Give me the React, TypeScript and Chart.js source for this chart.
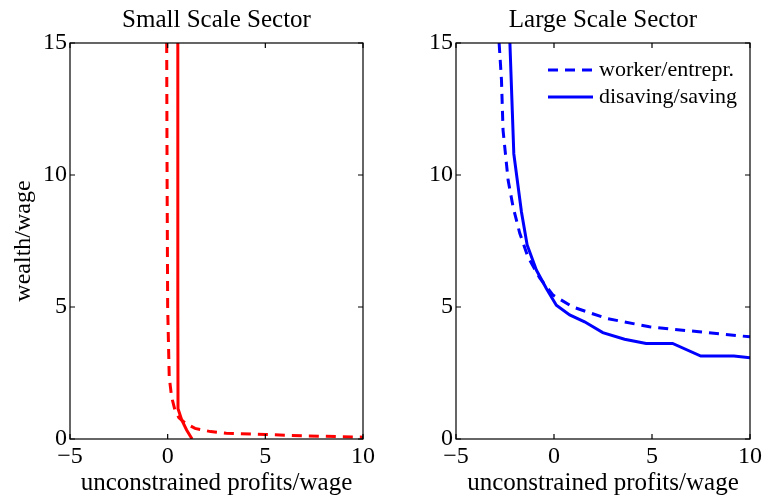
import React, { useEffect, useRef } from "react";
import { Chart, registerables } from "chart.js";

Chart.register(...registerables);

// ---- Data ----
const xTickValues = [-5, 0, 5, 10];
const yTickValues = [0, 5, 10, 15];

// Small scale sector
const smallWorkerX = [-0.05, -0.03, 0.0, 0.08, 0.2, 0.37, 0.58, 0.9, 1.4, 2.2, 3.0, 5.0, 7.0, 10.0];
const smallWorkerY = [15, 10, 5, 2.35, 1.6, 1.1, 0.8, 0.6, 0.4, 0.28, 0.22, 0.17, 0.12, 0.07];
const smallSavingX = [0.52, 0.52, 0.53, 0.72, 0.97, 1.25];
const smallSavingY = [15, 5, 1.15, 0.72, 0.34, 0];

// Large scale sector
const largeWorkerX = [-2.8, -2.68, -2.6, -2.34, -2.09, -1.75, -1.33, -0.73, -0.05, 0.96, 2.67, 4.87, 7.4, 10];
const largeWorkerY = [15, 13.6, 11.7, 9.8, 8.8, 7.8, 6.9, 6.1, 5.45, 5.0, 4.57, 4.25, 4.06, 3.87];
const largeSavingX = [-2.25, -2.05, -1.66, -1.37, -0.9, -0.39, 0.12, 0.8, 1.56, 2.49, 3.6, 4.7, 6.05, 7.49, 9.18, 10];
const largeSavingY = [15, 10.8, 8.6, 7.35, 6.4, 5.7, 5.07, 4.7, 4.44, 4.03, 3.78, 3.62, 3.62, 3.14, 3.14, 3.08];

const legendLabels = ["worker/entrepr.", "disaving/saving"];

const FONT = "'Liberation Serif', 'Times New Roman', serif";
const DASH = [10, 7];

const toPoints = (xs: number[], ys: number[]) => xs.map((x, i) => ({ x, y: ys[i] }));
const fmt = (v: number | string) => {
  const n = Number(v);
  return n < 0 ? "\u2212" + Math.abs(n) : String(n);
};

const framePlugin = {
  id: "frame",
  afterDatasetsDraw(chart: any) {
    const { ctx, chartArea, scales } = chart;
    const { left, right, top, bottom } = chartArea;
    ctx.save();
    ctx.strokeStyle = "#000";
    ctx.lineWidth = 1.2;
    ctx.strokeRect(left, top, right - left, bottom - top);
    const len = 5;
    ctx.beginPath();
    xTickValues.forEach((v) => {
      const px = scales.x.getPixelForValue(v);
      ctx.moveTo(px, bottom);
      ctx.lineTo(px, bottom - len);
      ctx.moveTo(px, top);
      ctx.lineTo(px, top + len);
    });
    yTickValues.forEach((v) => {
      const py = scales.y.getPixelForValue(v);
      ctx.moveTo(left, py);
      ctx.lineTo(left + len, py);
      ctx.moveTo(right, py);
      ctx.lineTo(right - len, py);
    });
    ctx.stroke();
    ctx.restore();
  },
};

const innerLegendPlugin = {
  id: "innerLegend",
  afterDatasetsDraw(chart: any, _args: any, opts: any) {
    if (!opts || !opts.show) return;
    const { ctx, chartArea } = chart;
    const x0 = chartArea.left + 92;
    const x1 = chartArea.left + 137;
    const tx = chartArea.left + 143;
    const rows = [chartArea.top + 27, chartArea.top + 54];
    ctx.save();
    chart.data.datasets.forEach((ds: any, i: number) => {
      const y = rows[i];
      ctx.strokeStyle = ds.borderColor;
      ctx.lineWidth = ds.borderWidth;
      ctx.setLineDash(ds.borderDash || []);
      ctx.beginPath();
      ctx.moveTo(x0, y);
      ctx.lineTo(x1, y);
      ctx.stroke();
      ctx.setLineDash([]);
      ctx.fillStyle = "#000";
      ctx.font = `22px ${FONT}`;
      ctx.textBaseline = "middle";
      ctx.textAlign = "left";
      ctx.fillText(legendLabels[i], tx, y);
    });
    ctx.restore();
  },
};

function makeConfig(opts: {
  title: string;
  color: string;
  workerX: number[];
  workerY: number[];
  savingX: number[];
  savingY: number[];
  yTitle: string | null;
  yWidth: number;
  padRight: number;
  legend: boolean;
}): any {
  const tickFont = { family: FONT, size: 24 };
  return {
    type: "line",
    data: {
      datasets: [
        {
          label: legendLabels[0],
          data: toPoints(opts.workerX, opts.workerY),
          borderColor: opts.color,
          backgroundColor: opts.color,
          borderWidth: 3,
          borderDash: DASH,
          pointRadius: 0,
          tension: 0,
          fill: false,
        },
        {
          label: legendLabels[1],
          data: toPoints(opts.savingX, opts.savingY),
          borderColor: opts.color,
          backgroundColor: opts.color,
          borderWidth: 3,
          pointRadius: 0,
          tension: 0,
          fill: false,
        },
      ],
    },
    options: {
      responsive: false,
      maintainAspectRatio: false,
      animation: false,
      events: [],
      layout: { padding: { left: 0, right: opts.padRight, top: 0, bottom: 0 } },
      plugins: {
        legend: { display: false },
        tooltip: { enabled: false },
        title: {
          display: true,
          text: opts.title,
          fullSize: false,
          color: "#000",
          font: { family: FONT, size: 25, weight: "normal" },
          padding: { top: 5, bottom: 8 },
        },
        innerLegend: { show: opts.legend },
      },
      scales: {
        x: {
          type: "linear",
          min: -5,
          max: 10,
          afterBuildTicks: (s: any) => {
            s.ticks = xTickValues.map((v) => ({ value: v }));
          },
          grid: { display: false, drawTicks: false },
          border: { display: false },
          ticks: {
            color: "#000",
            font: tickFont,
            padding: 3,
            maxRotation: 0,
            autoSkip: false,
            callback: (v: any) => fmt(v),
          },
          title: {
            display: true,
            text: "unconstrained profits/wage",
            color: "#000",
            font: { family: FONT, size: 25 },
            padding: { top: 0, bottom: 0 },
          },
          afterFit: (s: any) => {
            s.height = 59;
          },
        },
        y: {
          type: "linear",
          min: 0,
          max: 15,
          afterBuildTicks: (s: any) => {
            s.ticks = yTickValues.map((v) => ({ value: v }));
          },
          grid: { display: false, drawTicks: false },
          border: { display: false },
          ticks: {
            color: "#000",
            font: tickFont,
            padding: 3,
            autoSkip: false,
            callback: (v: any) => fmt(v),
          },
          title: {
            display: !!opts.yTitle,
            text: opts.yTitle || "",
            color: "#000",
            font: { family: FONT, size: 24 },
            padding: { top: 9, bottom: 0 },
          },
          afterFit: (s: any) => {
            s.width = opts.yWidth;
          },
        },
      },
    },
    plugins: [framePlugin, innerLegendPlugin],
  };
}

function Panel(props: { cfg: any; left: number; width: number }) {
  const ref = useRef<HTMLCanvasElement | null>(null);
  useEffect(() => {
    if (!ref.current) return;
    const chart = new Chart(ref.current, props.cfg);
    return () => chart.destroy();
  }, []);
  return (
    <canvas
      ref={ref}
      width={props.width}
      height={498}
      style={{ position: "absolute", left: props.left, top: 0, width: props.width, height: 498 }}
    />
  );
}

export default function App() {
  const leftCfg = makeConfig({
    title: "Small Scale Sector",
    color: "#ff0000",
    workerX: smallWorkerX,
    workerY: smallWorkerY,
    savingX: smallSavingX,
    savingY: smallSavingY,
    yTitle: "wealth/wage",
    yWidth: 70,
    padRight: 27,
    legend: false,
  });
  const rightCfg = makeConfig({
    title: "Large Scale Sector",
    color: "#0000ff",
    workerX: largeWorkerX,
    workerY: largeWorkerY,
    savingX: largeSavingX,
    savingY: largeSavingY,
    yTitle: null,
    yWidth: 66,
    padRight: 14,
    legend: true,
  });
  return (
    <div style={{ position: "absolute", left: 0, top: 0, width: 765, height: 498, background: "#fff" }}>
      <Panel cfg={leftCfg} left={0} width={390} />
      <Panel cfg={rightCfg} left={390} width={375} />
    </div>
  );
}
